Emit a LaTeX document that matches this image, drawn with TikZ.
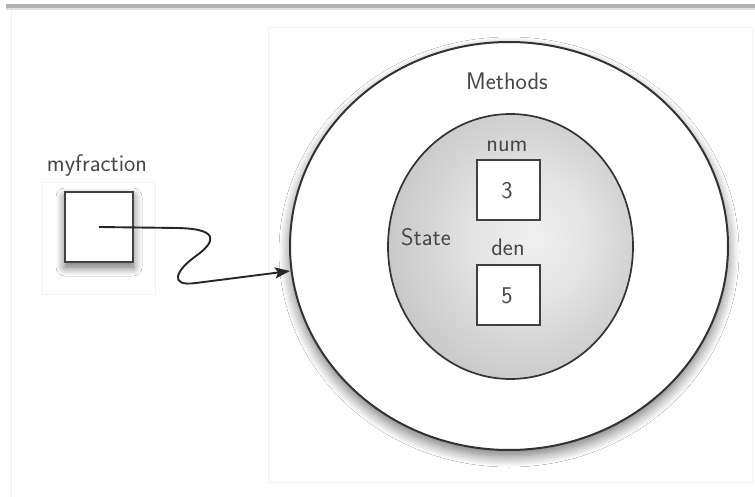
\documentclass[tikz,border=0pt]{standalone}
\usepackage{fontspec}
\usetikzlibrary{shapes.geometric,shadows.blur,arrows.meta}
\pgfdeclareradialshading{stateshade}{\pgfpoint{5bp}{2bp}}{%
  color(0bp)=(black!6); color(12bp)=(black!11); color(30bp)=(black!23); color(48bp)=(black!35); color(60bp)=(black!36)}
\begin{document}
\begin{tikzpicture}[x=1pt,y=-1pt,
  lbl/.style={font=\sffamily\fontsize{24}{28}\selectfont, text=black!72, inner sep=0pt},
  cellbox/.style={draw=black!75, line width=2pt, fill=white, minimum width=63pt, minimum height=60pt, inner sep=0pt},
  faint/.style={draw=black!5, line width=1pt},
  conn/.style={draw=black!85, line width=1.9pt, -{Stealth[length=15pt,width=11pt,inset=3pt]}}
]
\useasboundingbox (0,0) rectangle (755,497);
\fill[white] (0,0) rectangle (755,497);
% screenshot frame
\fill[black!30] (6,4) rectangle (755,8);
\fill[black!12] (6,8) rectangle (755,10);
\draw[faint] (11,10) -- (11,497);
\draw[faint] (268,28) rectangle (752,482);
\draw[faint] (42,183) rectangle (155,294);
% outer circle
\node[draw=black!80, line width=2pt, ellipse, fill=white, minimum width=438pt, minimum height=408pt, inner sep=0pt,
  blur shadow={shadow xshift=0pt, shadow yshift=-6pt, shadow blur radius=11pt, shadow blur steps=12, shadow opacity=55}] (outer) at (509,246) {};
% inner state circle
\node[draw=black!80, line width=1.7pt, ellipse, shading=stateshade, minimum width=245pt, minimum height=265pt, inner sep=0pt] (state) at (510.5,246.5) {};
% boxes
\node[cellbox] (numbox) at (508.5,190.5) {};
\node[cellbox] (denbox) at (508.5,294.5) {};
\node[cellbox, minimum width=68pt, minimum height=70pt,
  blur shadow={shadow xshift=0pt, shadow yshift=-5pt, shadow blur radius=9pt, shadow blur steps=10, shadow opacity=60}] (mybox) at (99,227) {};
% labels
\node[lbl, anchor=base] (methods) at (507,90) {Methods};
\node[lbl, anchor=base] (numlbl) at (507,152) {num};
\node[lbl, anchor=base] (denlbl) at (508,255) {den};
\node[lbl, anchor=base] (statelbl) at (426,245) {State};
\node[lbl, anchor=base] (three) at (507,199) {3};
\node[lbl, anchor=base] (five) at (507,303) {5};
\node[lbl, anchor=base] (myfrac) at (97,172) {myfraction};
% connector
\coordinate (tip) at (290,271);
\draw[conn] (mybox.center) -- (178,228) .. controls (222,229) and (214,243) .. (196,256)
  .. controls (176,270) and (168,287) .. (196,283) -- (tip);
\end{tikzpicture}
\end{document}
